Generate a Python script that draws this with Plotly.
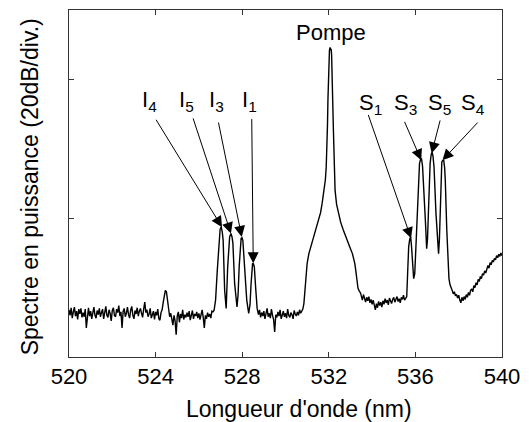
import plotly.graph_objects as go

# ---------------- data (wavelength in nm, power in dB) ----------------
step = 0.05  # OSA sampling step for the noisy stretches

base_a_start = 520.00
base_a_db = [6.8, 6.0, 7.1, 5.6, 6.5, 7.2, 5.9, 6.6, 5.4, 6.9,
             6.2, 7.0, 5.7, 6.4, 5.8, 6.9, 4.2, 6.3, 7.1, 5.9,
             6.6, 5.5, 6.8, 7.2, 6.0, 5.6, 6.7, 6.1, 7.0, 5.8,
             6.4, 6.9, 5.5, 6.2, 7.3, 6.0, 5.7, 6.8, 6.3, 5.2,
             6.7, 7.1, 6.0, 5.8, 6.9, 6.4, 7.4, 5.9, 6.5, 4.2,
             6.6, 7.0, 5.8, 6.3, 7.2, 6.1, 5.6, 6.8, 7.3, 6.0,
             5.5, 6.7, 6.2, 7.1, 5.9, 6.6, 7.0, 6.3, 5.7, 6.9,
             7.9, 6.4, 6.8, 5.8, 6.2, 7.0, 5.6, 6.1, 6.6, 5.4,
             6.5, 6.0, 6.9, 5.5, 5.3, 6.4]

bump_wl = [524.30, 524.36, 524.41, 524.45, 524.50, 524.55, 524.60, 524.65]
bump_db = [6.8, 8.0, 9.3, 9.6, 9.4, 8.2, 6.9, 5.8]

base_b_start = 524.70
base_b_db = [6.3, 5.5, 4.6, 6.0, 5.2, 3.2,
             5.9, 6.5, 5.0, 6.2, 5.6, 6.8, 5.4, 6.1, 5.7, 6.4,
             5.8, 6.6, 5.3, 6.0, 6.7, 5.5, 6.2, 5.9, 6.5, 5.6,
             6.3, 5.4, 6.1, 6.8, 5.7, 4.2, 6.0, 5.5, 6.4, 5.8,
             6.2, 5.6, 6.6, 6.5]

idler_wl = [526.70, 526.77, 526.85, 526.92, 526.98, 527.03, 527.08, 527.12,
            527.19, 527.26, 527.33, 527.42, 527.48, 527.53, 527.57, 527.65,
            527.72, 527.76, 527.81, 527.86, 527.95, 527.99, 528.03, 528.13,
            528.21, 528.30, 528.36, 528.41, 528.48, 528.52, 528.56, 528.63,
            528.69]
idler_db = [6.7, 8.2, 12.5, 16.8, 18.4, 18.75, 18.0, 16.8,
            9.6, 7.0, 13.0, 17.3, 17.8, 17.3, 16.4, 10.6,
            7.6, 7.2, 9.0, 13.0, 17.1, 17.2, 16.8, 12.0,
            8.2, 6.3, 7.5, 10.6, 13.5, 13.4, 13.0, 9.6,
            7.0]

base_c_start = 528.75
base_c_db = [6.1, 6.8, 5.7, 6.4, 5.9,
             6.6, 5.5, 6.2, 7.0, 5.8, 6.3, 5.6, 6.9, 6.0, 5.4,
             3.6, 6.1, 5.7, 6.5, 5.9, 6.8, 5.5, 6.2, 6.6, 5.8,
             6.3, 5.6, 6.9, 6.0, 5.7, 6.4, 6.1, 5.5, 6.7, 6.2,
             5.9, 6.5, 6.0, 6.8, 6.3, 6.6, 6.9]

pump_wl = [530.85, 530.93, 531.00, 531.08, 531.20, 531.31, 531.42, 531.54,
           531.62, 531.69, 531.77, 531.84, 531.88, 531.91, 531.94, 531.96,
           531.98, 532.00, 532.03, 532.06, 532.09, 532.11, 532.13, 532.15,
           532.18, 532.21, 532.23, 532.26, 532.29, 532.36, 532.44, 532.55,
           532.67, 532.78, 532.89, 533.00, 533.09, 533.15, 533.20, 533.24,
           533.27, 533.31, 533.35, 533.41, 533.47]
pump_db = [7.7, 11.6, 13.5, 14.9, 16.2, 17.3, 18.5, 19.7,
           20.8, 22.1, 23.6, 25.5, 27.3, 29.8, 33.5, 37.0,
           40.0, 42.5, 44.2, 44.6, 44.2, 44.4, 43.5, 41.8,
           37.0, 33.0, 29.8, 26.5, 24.0, 22.0, 20.7, 19.4,
           18.3, 17.3, 16.4, 15.6, 14.9, 14.3, 13.5, 12.6,
           11.6, 10.7, 9.9, 9.5, 9.2]

plateau_start = 533.50
plateau_db = [8.8, 8.2, 9.0, 8.4, 7.9, 8.6, 8.1, 8.7, 7.8, 8.3,
              7.6, 8.2, 7.3, 6.8, 7.7, 7.1, 8.0, 7.4, 7.9, 7.2,
              8.1, 7.6, 8.4, 7.8, 8.2, 7.5, 8.5, 8.0, 7.7, 8.3,
              8.6, 7.9, 8.2, 8.7, 8.0, 8.4, 7.8, 8.6, 8.3, 8.9,
              8.2, 8.5, 8.7]

signal_wl = [535.64, 535.69, 535.74, 535.78, 535.82, 535.87, 535.92, 535.97,
             536.02, 536.07, 536.13, 536.19, 536.24, 536.28, 536.33, 536.37,
             536.46, 536.52, 536.56, 536.60, 536.68, 536.73, 536.77, 536.81,
             536.86, 536.95, 537.02, 537.07, 537.11, 537.16, 537.22, 537.26,
             537.31, 537.35, 537.38, 537.45, 537.51, 537.55]
signal_db = [12.0, 15.9, 17.0, 17.3, 16.0, 12.5, 11.3, 12.0,
             16.0, 20.7, 25.0, 27.9, 28.5, 28.6, 27.5, 25.5,
             19.7, 15.6, 17.0, 20.7, 27.9, 29.2, 29.5, 29.0,
             27.4, 20.7, 16.0, 14.9, 17.0, 21.6, 28.1, 28.3,
             28.3, 27.3, 25.5, 18.3, 13.0, 11.3]

tail_start = 537.60
tail_db = [10.4, 9.8, 9.6, 9.1, 9.4, 8.8, 9.0, 8.5,
           8.9, 8.2, 7.8, 8.6, 8.1, 8.7, 8.3, 9.0,
           8.6, 9.3, 8.9, 9.6, 9.8, 9.4, 10.3, 10.0,
           10.7, 10.4, 11.2, 10.9, 11.6, 11.3, 12.0, 11.8,
           12.4, 12.1, 12.9, 13.2, 12.8, 13.6, 13.3, 13.9,
           13.7, 14.2, 14.0, 14.6, 14.3, 14.8, 14.5, 15.0,
           14.6]

x_tick_vals = [520, 524, 528, 532, 536, 540]
y_tick_vals = [0, 20, 40]

# labels: text, label centre (x, y), arrow tail (x, y), arrow head (x, y)
peak_labels = ["I<sub>4</sub>", "I<sub>5</sub>", "I<sub>3</sub>", "I<sub>1</sub>",
               "S<sub>1</sub>", "S<sub>3</sub>", "S<sub>5</sub>", "S<sub>4</sub>"]
label_x = [523.72, 525.41, 526.82, 528.36, 533.93, 535.52, 537.11, 538.64]
label_y = [36.9, 36.9, 36.9, 36.9, 36.5, 36.5, 36.5, 36.5]
tail_x = [523.98, 525.71, 526.89, 528.44, 533.80, 535.47, 537.16, 538.94]
tail_y = [34.4, 34.6, 34.0, 34.5, 35.1, 34.1, 34.3, 34.0]
head_x = [527.07, 527.48, 527.98, 528.51, 535.80, 536.27, 536.75, 537.25]
head_y = [18.7, 17.8, 17.3, 13.5, 17.1, 28.35, 29.35, 28.35]


def grid(start, values):
    return [round(start + i * step, 3) for i in range(len(values))]


wavelength = (grid(base_a_start, base_a_db) + bump_wl + grid(base_b_start, base_b_db)
              + idler_wl + grid(base_c_start, base_c_db) + pump_wl
              + grid(plateau_start, plateau_db) + signal_wl + grid(tail_start, tail_db))
power = (base_a_db + bump_db + base_b_db + idler_db + base_c_db + pump_db
         + plateau_db + signal_db + tail_db)

FONT = "Liberation Sans, Arial, Helvetica, sans-serif"

fig = go.Figure()
fig.add_trace(go.Scatter(x=wavelength, y=power, mode="lines",
                         line=dict(color="black", width=1.4), hoverinfo="skip",
                         showlegend=False))

annotations = []
for txt, lx, ly, tx, ty, hx, hy in zip(peak_labels, label_x, label_y,
                                         tail_x, tail_y, head_x, head_y):
    annotations.append(dict(x=lx, y=ly, xref="x", yref="y", text=txt,
                            showarrow=False, font=dict(family=FONT, size=22, color="black"),
                            xanchor="center", yanchor="middle"))
    annotations.append(dict(x=hx, y=hy, xref="x", yref="y", ax=tx, ay=ty,
                            axref="x", ayref="y", text="", showarrow=True,
                            arrowhead=2, arrowsize=2.2, arrowwidth=1,
                            arrowcolor="black", standoff=0, startstandoff=0))

annotations.append(dict(x=532.08, y=46.7, xref="x", yref="y", text="Pompe",
                        showarrow=False, font=dict(family=FONT, size=22, color="black"),
                        xanchor="center", yanchor="middle"))
annotations.append(dict(x=0.5306, y=-0.149, xref="paper", yref="paper",
                        text="Longueur d'onde (nm)", showarrow=False,
                        font=dict(family=FONT, size=23, color="black"),
                        xanchor="center", yanchor="middle"))
annotations.append(dict(x=-0.0907, y=0.491, xref="paper", yref="paper",
                        text="Spectre en puissance (20dB/div.)", textangle=-90,
                        showarrow=False, font=dict(family=FONT, size=23, color="black"),
                        xanchor="center", yanchor="middle"))

fig.update_layout(
    width=529, height=422,
    margin=dict(l=69, r=19, t=9, b=65),
    paper_bgcolor="white", plot_bgcolor="white",
    font=dict(family=FONT, color="black"),
    annotations=annotations,
    showlegend=False,
    hovermode=False,
)
fig.update_xaxes(range=[520, 540], tickvals=x_tick_vals, ticks="inside", ticklen=5,
                 tickcolor="#333", showline=True, linecolor="#333", linewidth=1,
                 mirror="ticks", showgrid=False, zeroline=False,
                 tickfont=dict(family=FONT, size=22, color="black"))
fig.update_yaxes(range=[0, 50], tickvals=y_tick_vals, ticks="inside", ticklen=5,
                 tickcolor="#333", showline=True, linecolor="#333", linewidth=1,
                 mirror="ticks", showgrid=False, zeroline=False, showticklabels=False)

fig.write_html("out.html", config={"displayModeBar": False, "staticPlot": True},
               post_script="document.body.style.margin='0';document.body.style.overflow='hidden';")
